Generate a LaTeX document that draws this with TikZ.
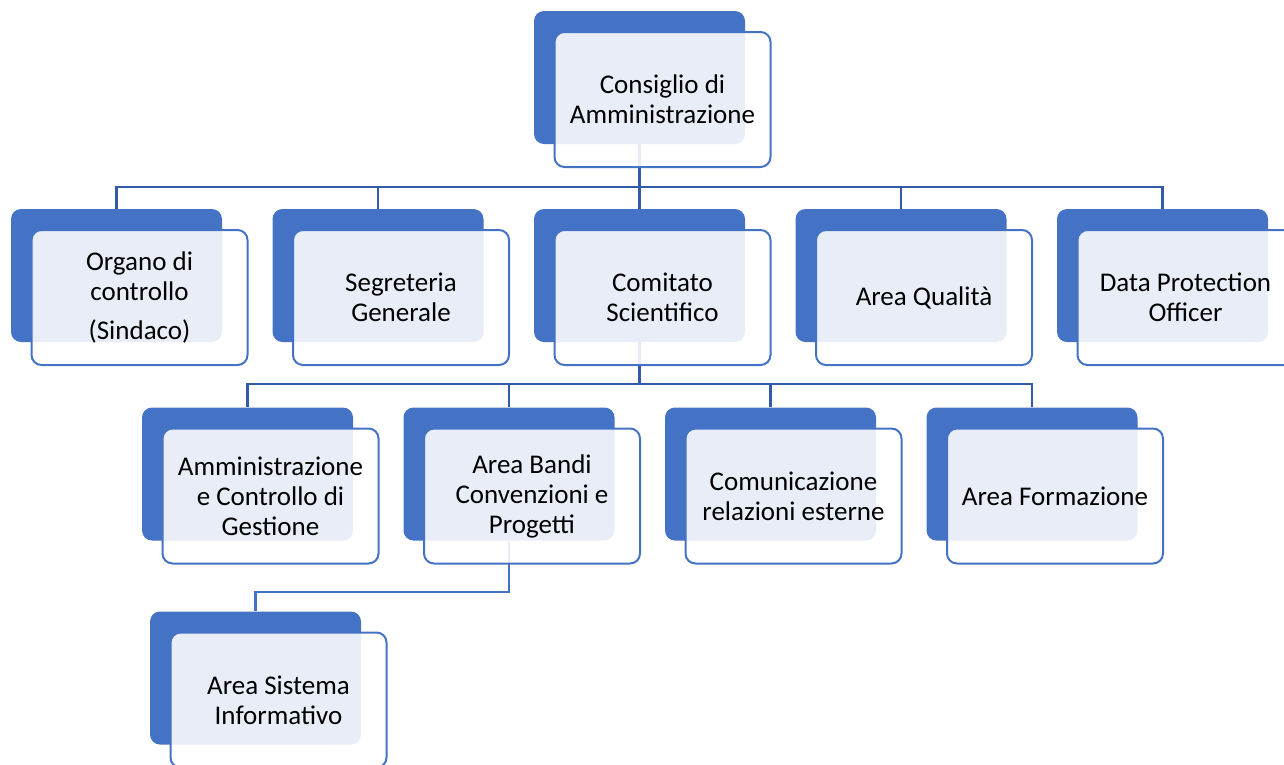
\documentclass[tikz,border=0pt]{standalone}
\usepackage{fontspec}
\setmainfont{Carlito}
\usetikzlibrary{backgrounds}
\definecolor{boxblue}{RGB}{68,114,196}
\definecolor{linkblue}{RGB}{52,92,166}

\tikzset{
  backbox/.style={fill=boxblue, rounded corners=10pt, minimum width=211pt,
    minimum height=133pt, inner sep=0pt},
  frontbox/.style={draw=boxblue, line width=2pt, fill=white, fill opacity=0.88,
    text opacity=1, rounded corners=10pt, minimum width=216pt, minimum height=135pt,
    inner sep=0pt, align=center, font=\fontsize{27}{30}\selectfont},
  link/.style={draw=linkblue, line width=2.2pt},
  sublink/.style={draw=boxblue, line width=2.2pt}
}

% back box at (x,y), front box shifted by (22,22)
\newcommand{\orgbox}[4]{%
  \node[backbox] (#1-b) at (#2,#3) {};
  \node[frontbox] (#1) at (#2+23,#3+22) {#4};
}

\begin{document}
\begin{tikzpicture}[x=1pt,y=-1pt]
  \useasboundingbox (0,0) rectangle (1284,764);

  % top
  \orgbox{cda}{639.5}{77.5}{Consiglio di\\Amministrazione}

  % first level
  \orgbox{org}{116.5}{275.5}{Organo di\\controllo\\[9pt](Sindaco)}
  \orgbox{seg}{378}{275.5}{Segreteria\\Generale}
  \orgbox{com}{639.5}{275.5}{Comitato\\Scientifico}
  \orgbox{qua}{901}{275.5}{Area Qualità}
  \orgbox{dpo}{1162.5}{275.5}{Data Protection\\Officer}

  % second level
  \orgbox{amm}{247.5}{474}{Amministrazione\\e Controllo di\\Gestione}
  \orgbox{ban}{509}{474}{Area Bandi\\Convenzioni e\\Progetti}
  \orgbox{rel}{770.5}{474}{Comunicazione\\relazioni esterne}
  \orgbox{for}{1032}{474}{Area Formazione}

  % third level
  \orgbox{sis}{255.5}{678}{Area Sistema\\Informativo}

  \begin{scope}[on background layer]
    \path[link] (cda-b.south) -- ++(0,43) coordinate (bus1);
    \foreach \n in {org,seg,com,qua,dpo}
      \path[link] (bus1) -| (\n-b.north);
    \path[link] (com-b.south) -- ++(0,42) coordinate (bus2);
    \foreach \n in {amm,ban,rel,for}
      \path[link] (bus2) -| (\n-b.north);
    \path[sublink] (ban-b.south) |- ++(0,51) -| (sis-b.north);
  \end{scope}
\end{tikzpicture}
\end{document}
